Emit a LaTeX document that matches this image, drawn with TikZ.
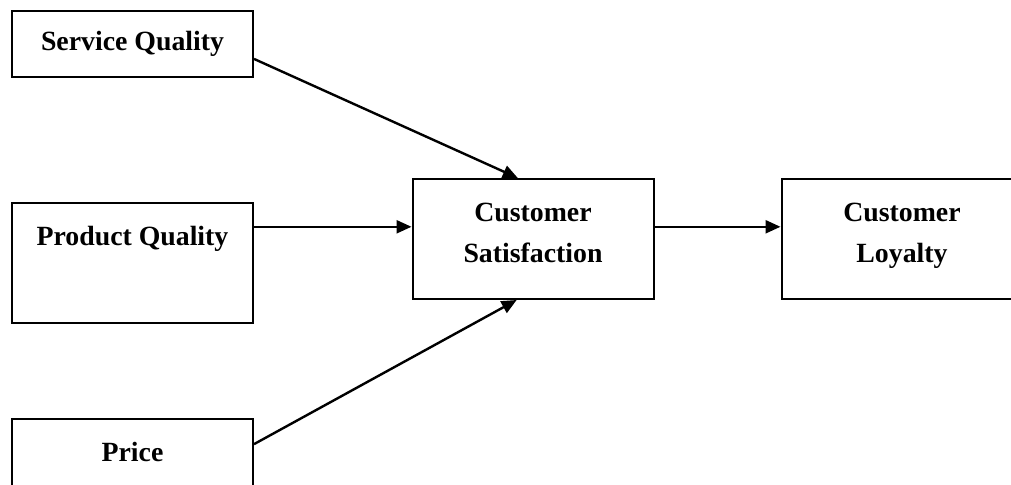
\documentclass[tikz,border=0pt]{standalone}
\usepackage{fontspec}
\setmainfont{Liberation Serif}
\usetikzlibrary{arrows.meta,calc}
\begin{document}
\begin{tikzpicture}[
  x=0.5pt, y=-0.5pt,
  box/.style={rectangle, draw, line width=1pt, minimum width=120.5pt, align=center,
    font=\fontsize{13.9}{20.5}\selectfont\bfseries},
  small box/.style={box, minimum height=33pt},
  tall box/.style={box, minimum height=60pt},
  arrow/.style={line width=1.2pt, -{Triangle[length=7.5pt,width=6.5pt]}}
  ]
  \useasboundingbox (0,0) rectangle (1011,485);
  \clip (0,0) rectangle (1011,485);
  \node[small box] (sq) at (132.5,44) {Service Quality};
  \node[tall box] (pq) at (132.5,263) {Product Quality\\\strut};
  \node[tall box] (pr) at (132.5,479) {Price\\\strut};
  \node[tall box] (cs) at (533,239) {Customer\\Satisfaction\strut};
  \node[tall box] (cl) at (902,239) {Customer\\Loyalty\strut};
  \coordinate (in) at ($(cs.north west)!0.4!(cs.south west)$);
  \draw[arrow] (sq.-7.6) -- (cs.104.9);
  \draw[arrow] (in -| pq.east) -- (in);
  \draw[arrow] (pr.16.6) -- (cs.255.1);
  \draw[arrow] (in -| cs.east) -- (in -| cl.west);
\end{tikzpicture}
\end{document}
